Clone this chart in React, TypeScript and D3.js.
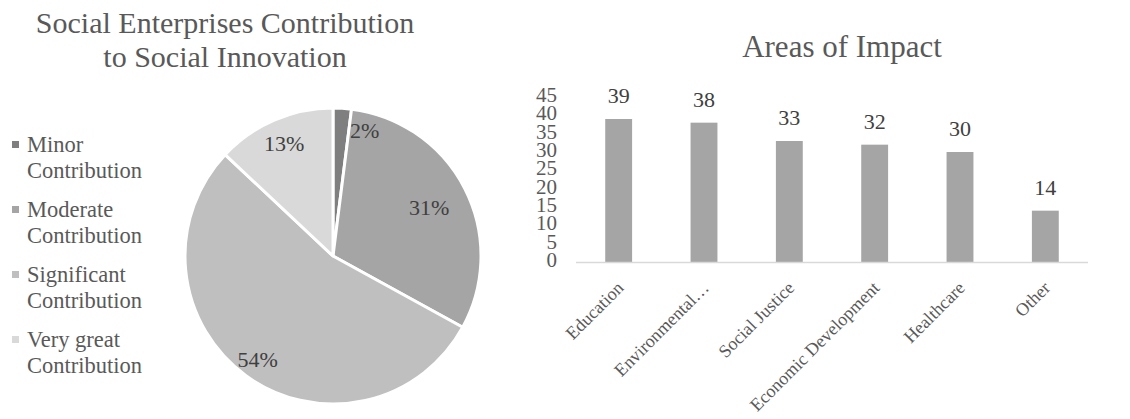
import React from "react";
import * as d3 from "d3";

const pieCategories = ["Minor Contribution", "Moderate Contribution", "Significant Contribution", "Very great Contribution"];
const legendLines = [["Minor", "Contribution"], ["Moderate", "Contribution"], ["Significant", "Contribution"], ["Very great", "Contribution"]];
const pieValues = [2, 31, 54, 13];
const pieColors = ["#7f7f7f", "#a5a5a5", "#bfbfbf", "#d9d9d9"];

const barCategories = ["Education", "Environmental…", "Social Justice", "Economic Development", "Healthcare", "Other"];
const barValues = [39, 38, 33, 32, 30, 14];
const yTicks = [0, 5, 10, 15, 20, 25, 30, 35, 40, 45];

const FONT = "'Liberation Serif', 'Times New Roman', Times, serif";

export default function App() {
  const W = 1130, H = 419;
  // Pie
  const cx = 333, cy = 256, R = 148;
  const pie = d3.pie<number>().sort(null).value((d) => d)(pieValues);
  const arc = d3.arc<d3.PieArcDatum<number>>().innerRadius(0).outerRadius(R);
  const total = d3.sum(pieValues);

  // Bars
  const x = d3.scaleBand<string>().domain(barCategories).range([576, 1088]).paddingInner(0.685).paddingOuter(0.3425);
  const y = d3.scaleLinear().domain([0, 45]).range([262, 97]);

  return (
    <svg width={W} height={H} style={{ position: "absolute", left: 0, top: 0, background: "#fff" }} fontFamily={FONT}>
      <rect x={0} y={0} width={W} height={H} fill="#fff" />
      {/* Pie title */}
      <text x={225} y={33} textAnchor="middle" fontSize={30} fill="#595959">Social Enterprises Contribution</text>
      <text x={225} y={67} textAnchor="middle" fontSize={30} fill="#595959">to Social Innovation</text>
      {/* Legend */}
      {pieCategories.map((c, i) => (
        <g key={c} transform={`translate(0, ${152 + i * 65})`}>
          <rect x={12} y={-11} width={7} height={7} fill={pieColors[i]} />
          <text x={27} y={0} fontSize={22.5} fill="#595959">{legendLines[i][0]}</text>
          <text x={27} y={26} fontSize={22.5} fill="#595959">{legendLines[i][1]}</text>
        </g>
      ))}
      {/* Pie slices */}
      <g transform={`translate(${cx},${cy})`}>
        {pie.map((p, i) => (
          <path key={i} d={arc(p) || ""} fill={pieColors[i]} stroke="#fff" strokeWidth={3} strokeLinejoin="round" />
        ))}
        {pie.map((p, i) => {
          const span = p.endAngle - p.startAngle;
          const pct = Math.round((p.data / total) * 100) + "%";
          if (span < 0.2) {
            const a = p.endAngle;
            const r = 127;
            return (
              <text key={"l" + i} x={r * Math.sin(a) + 1} y={-r * Math.cos(a) + 8} textAnchor="start" fontSize={22} fill="#404040">{pct}</text>
            );
          }
          const mid = (p.startAngle + p.endAngle) / 2;
          const rr = [0, 108, 128, 123][i];
          return (
            <text key={"l" + i} x={rr * Math.sin(mid)} y={-rr * Math.cos(mid)} dy="0.35em" textAnchor="middle" fontSize={22} fill="#404040">{pct}</text>
          );
        })}
      </g>

      {/* Bar title */}
      <text x={842} y={57} textAnchor="middle" fontSize={31} fill="#595959">Areas of Impact</text>
      {/* Y tick labels */}
      {yTicks.map((t) => (
        <text key={t} x={557} y={y(t) - 2.5} dy="0.35em" textAnchor="end" fontSize={21} fill="#595959">{t}</text>
      ))}
      {/* Bars */}
      {barCategories.map((c, i) => (
        <g key={c}>
          <rect x={x(c)!} y={y(barValues[i])} width={x.bandwidth()} height={y(0) - y(barValues[i])} fill="#a5a5a5" />
          <text x={x(c)! + x.bandwidth() / 2} y={y(barValues[i]) - 16} textAnchor="middle" fontSize={22} fill="#404040">{barValues[i]}</text>
        </g>
      ))}
      <line x1={576} x2={1088} y1={262.5} y2={262.5} stroke="#d9d9d9" strokeWidth={1.5} />
      {/* X labels */}
      {barCategories.map((c) => {
        const cxb = x(c)! + x.bandwidth() / 2;
        return (
          <text key={"x" + c} transform={`translate(${cxb + 6},${289}) rotate(-45)`} textAnchor="end" fontSize={18} fill="#595959">{c}</text>
        );
      })}
    </svg>
  );
}
